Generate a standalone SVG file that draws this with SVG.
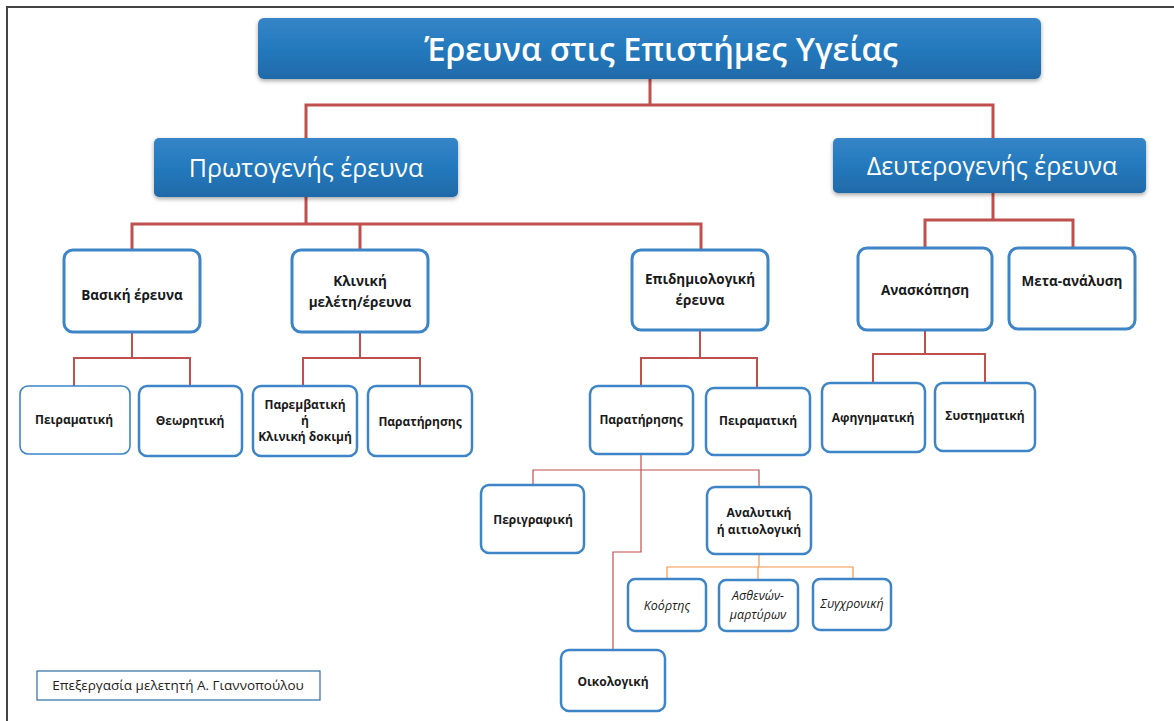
<svg xmlns="http://www.w3.org/2000/svg" width="1174" height="721" viewBox="0 0 1174 721">
<defs>
<linearGradient id="blueGrad" x1="0" y1="0" x2="0" y2="1">
<stop offset="0" stop-color="#3585c8"/>
<stop offset="0.5" stop-color="#2479bd"/>
<stop offset="1" stop-color="#1f6aa8"/>
</linearGradient>
<filter id="shadow" x="-5%" y="-10%" width="110%" height="130%">
<feDropShadow dx="0" dy="2" stdDeviation="2" flood-color="#000" flood-opacity="0.35"/>
</filter>
<style>
.hdr{fill:url(#blueGrad);filter:url(#shadow)}
.hdrT{fill:#fff;font-family:"Open Sans","Noto Sans",sans-serif;text-anchor:middle}
.tt{font-weight:600}
.box{fill:#fff;stroke:#3d85c6;stroke-width:3}
.sbox{fill:#fff;stroke:#3d85c6;stroke-width:2.5}
.t{fill:#1a1a1a;font-family:"Open Sans","Noto Sans",sans-serif;font-weight:bold;text-anchor:middle}
.ti{fill:#1a1a1a;font-family:"Open Sans","Noto Sans",sans-serif;font-style:italic;text-anchor:middle;font-size:12.5px}
.r3{fill:none;stroke:#c0504d;stroke-width:3}
.r2{fill:none;stroke:#c0504d;stroke-width:2}
.r1{fill:none;stroke:#c0504d;stroke-width:1.2}
.o1{fill:none;stroke:#f79646;stroke-width:1.2}
</style>
</defs>
<rect width="1174" height="721" fill="#fff"/>
<path d="M7,721 V7 H1174" fill="none" stroke="#444" stroke-width="2"/>

<g id="connectors">
<path class="r3" d="M650,79 V105 M306,138 V105 H993 V138"/>
<path class="r3" d="M306,197 V224 M132,250 V224 H701 V250 M360,224 V250"/>
<path class="r3" d="M993,193 V220 M925,248 V220 H1073 V248"/>
<path class="r2" d="M132,332 V358 M74,386 V358 H190 V386"/>
<path class="r2" d="M360,332 V358 M303,386 V358 H420 V386"/>
<path class="r2" d="M700,330 V358 M641,386 V358 H757 V388"/>
<path class="r2" d="M925,330 V354 M873,383 V354 H985 V383"/>
<path class="r1" d="M641,454 V470 M533,485 V470 H759 V487 M641,470 V552 H613 V650"/>
<path class="o1" d="M759,554 V567 M667,578 V567 H853 V578 M758,567 V580"/>
</g>

<g id="title">
<rect class="hdr" x="258" y="18" width="783" height="61" rx="6"/>
<text class="hdrT tt" x="661" y="61" font-size="32.5">Έρευνα στις Επιστήμες Υγείας</text>
</g>
<g id="primary">
<rect class="hdr" x="154" y="138" width="304" height="59" rx="5"/>
<text class="hdrT" x="306" y="177" font-size="25">Πρωτογενής έρευνα</text>
</g>
<g id="secondary">
<rect class="hdr" x="833" y="138" width="313" height="55" rx="5"/>
<text class="hdrT" x="992" y="175" font-size="25">Δευτερογενής έρευνα</text>
</g>

<g id="basic">
<rect class="box" x="64" y="250" width="136" height="82" rx="9"/>
<text class="t" x="132" y="300" font-size="13.5">Βασική έρευνα</text>
</g>
<g id="clinical">
<rect class="box" x="292" y="250" width="136" height="82" rx="9"/>
<text class="t" x="360" y="286" font-size="13.5">Κλινική</text>
<text class="t" x="360" y="307" font-size="13.5">μελέτη/έρευνα</text>
</g>
<g id="epidemiological">
<rect class="box" x="632" y="250" width="136" height="80" rx="9"/>
<text class="t" x="700" y="284" font-size="13.5">Επιδημιολογική</text>
<text class="t" x="700" y="305" font-size="13.5">έρευνα</text>
</g>
<g id="review">
<rect class="box" x="858" y="248" width="134" height="82" rx="9"/>
<text class="t" x="925" y="295" font-size="13.5">Ανασκόπηση</text>
</g>
<g id="meta">
<rect class="box" x="1009" y="248" width="126" height="81" rx="9"/>
<text class="t" x="1072" y="286" font-size="13.5">Μετα-ανάλυση</text>
</g>

<g id="basic-exp">
<rect x="20" y="386" width="110" height="68" rx="8" fill="#fff" stroke="#3d85c6" stroke-width="1.6"/>
<text class="t" x="74" y="424" font-size="12">Πειραματική</text>
</g>
<g id="basic-theory">
<rect class="sbox" x="139" y="386" width="103" height="70" rx="8"/>
<text class="t" x="190" y="425" font-size="12">Θεωρητική</text>
</g>
<g id="interventional">
<rect class="sbox" x="253" y="386" width="104" height="70" rx="8"/>
<text class="t" x="305" y="409" font-size="12">Παρεμβατική</text>
<text class="t" x="305" y="425" font-size="12">ή</text>
<text class="t" x="305" y="441" font-size="12">Κλινική δοκιμή</text>
</g>
<g id="clin-observ">
<rect class="sbox" x="368" y="386" width="104" height="70" rx="8"/>
<text class="t" x="420" y="426" font-size="12">Παρατήρησης</text>
</g>
<g id="epi-observ">
<rect class="sbox" x="590" y="386" width="103" height="68" rx="8"/>
<text class="t" x="641" y="424" font-size="12">Παρατήρησης</text>
</g>
<g id="epi-exp">
<rect class="sbox" x="706" y="388" width="104" height="67" rx="8"/>
<text class="t" x="758" y="425" font-size="12">Πειραματική</text>
</g>
<g id="narrative">
<rect class="sbox" x="822" y="383" width="103" height="69" rx="8"/>
<text class="t" x="873" y="422" font-size="12">Αφηγηματική</text>
</g>
<g id="systematic">
<rect class="sbox" x="935" y="383" width="100" height="68" rx="8"/>
<text class="t" x="985" y="420" font-size="12">Συστηματική</text>
</g>

<g id="descriptive">
<rect class="sbox" x="481" y="485" width="103" height="68" rx="8"/>
<text class="t" x="533" y="524" font-size="12">Περιγραφική</text>
</g>
<g id="analytical">
<rect class="sbox" x="707" y="487" width="104" height="67" rx="8"/>
<text class="t" x="759" y="517" font-size="12">Αναλυτική</text>
<text class="t" x="759" y="534" font-size="12">ή αιτιολογική</text>
</g>
<g id="ecological">
<rect class="sbox" x="561" y="650" width="104" height="61" rx="8"/>
<text class="t" x="613" y="686" font-size="12">Οικολογική</text>
</g>

<g id="cohort">
<rect class="sbox" x="628" y="579" width="78" height="52" rx="7"/>
<text class="ti" x="667" y="610">Κοόρτης</text>
</g>
<g id="case-control">
<rect class="sbox" x="719" y="580" width="79" height="51" rx="7"/>
<text class="ti" x="758" y="600">Ασθενών-</text>
<text class="ti" x="758" y="619">μαρτύρων</text>
</g>
<g id="cross-sectional">
<rect class="sbox" x="813" y="579" width="78" height="51" rx="7"/>
<text class="ti" x="852" y="608">Συγχρονική</text>
</g>

<g id="credit">
<rect x="37" y="671" width="283" height="29" fill="#fff" stroke="#2e6da4" stroke-width="1.2"/>
<text x="178" y="690" font-family="'Open Sans','Noto Sans',sans-serif" font-size="13.5" fill="#222" text-anchor="middle">Επεξεργασία μελετητή Α. Γιαννοπούλου</text>
</g>
</svg>
